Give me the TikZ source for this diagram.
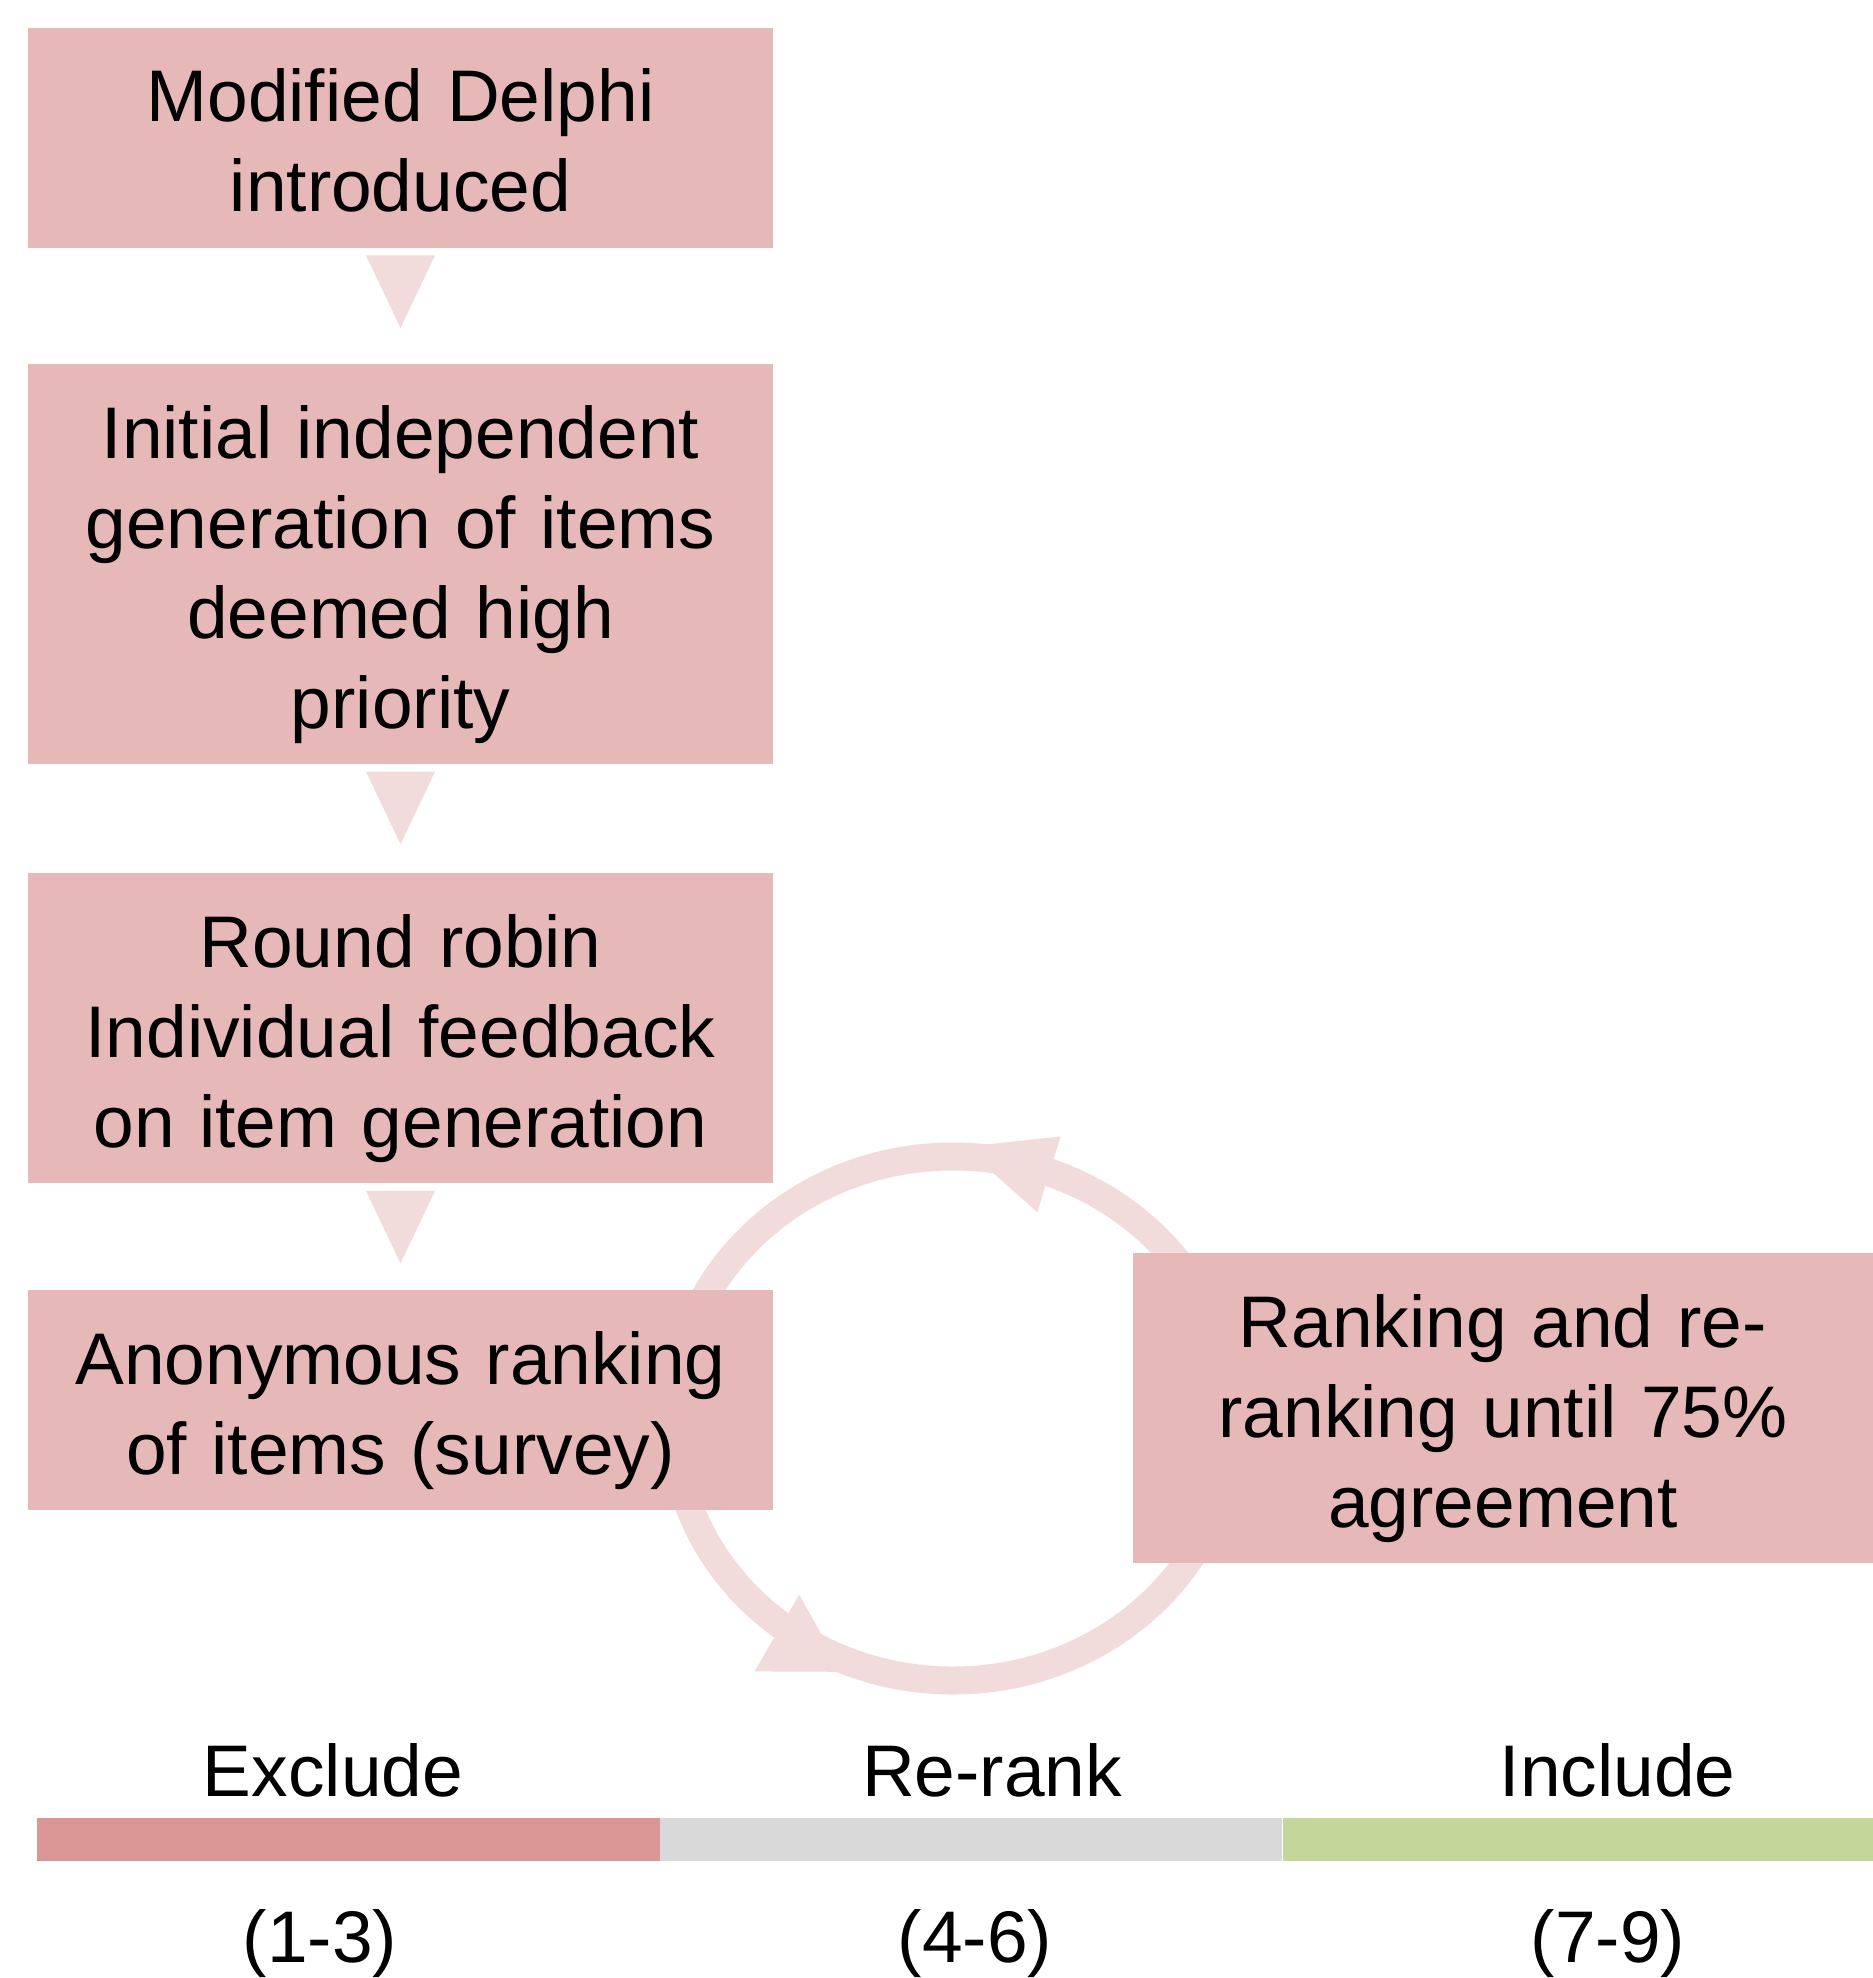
\documentclass[tikz,border=0pt]{standalone}
\usepackage{fontspec}
\setmainfont{Liberation Sans}
\usetikzlibrary{calc}

\definecolor{boxpink}{HTML}{E6B8B7}
\definecolor{flowpink}{HTML}{F2DCDB}
\definecolor{excludered}{HTML}{DA9694}
\definecolor{rerankgray}{HTML}{D9D9D9}
\definecolor{includegreen}{HTML}{C4D79B}

% strut that fixes the height of the first and the depth of the last line
\newcommand{\linestrut}{\rule[-1.6mm]{0pt}{9mm}}

\tikzset{
    stepbox/.style={fill=boxpink, text width=74.5mm, align=center,
        inner xsep=0pt, inner ysep=2mm,
        font=\fontsize{20.8pt}{9mm}\selectfont,
        execute at begin node=\linestrut, execute at end node=\linestrut},
    scaletext/.style={font=\fontsize{20.8pt}{9mm}\selectfont, anchor=base, inner sep=0pt}
}

\begin{document}
\begin{tikzpicture}[x=0.1mm, y=-0.1mm]
            \fill[white] (0, 0) rectangle (1873, 1978);
            \useasboundingbox (0, 0) rectangle (1873, 1978);

            % the ranking loop
            \draw[flowpink, line width=2.8mm] (953, 1418.5) ellipse [x radius=280, y radius=262];
            \fill[flowpink] (963.7, 1146.9) -- (1060.6, 1136.4) -- (1037.3, 1212.1) -- cycle;
            \fill[flowpink] (842.5, 1671.8) -- (799.3, 1594.8) -- (754.5, 1671.4) -- cycle;

            % the steps
            \node[stepbox] (delphi) at (400.5, 137.7) {Modified Delphi\\introduced};
            \node[stepbox] (initial) at (400.5, 564) {Initial independent\\generation of items\\deemed high\\priority};
            \node[stepbox] (robin) at (400.5, 1028.2) {Round robin\\Individual feedback\\on item generation};
            \node[stepbox] (anon) at (400.5, 1400) {Anonymous ranking\\of items (survey)};
            \node[stepbox, text width=74mm] (rerank) at (1503, 1408.3) {Ranking and re-\\ranking until 75\%\\agreement};

            \foreach \a in {delphi, initial, robin}{
            \fill[flowpink] ($(\a.south) + (-34.5, 7)$) -- ($(\a.south) + (34.5, 7)$) -- ($(\a.south) + (0, 79.5)$) -- cycle;
            }

            % the rating scale
            \foreach \xa/\xb/\col/\lbl/\lx/\rng/\rx [count=\k] in {37/659.5/excludered/Exclude/333/(1-3)/320, 659.5/1282.3/rerankgray/Re-rank/992/(4-6)/975, 1283.3/1873/includegreen/Include/1617.7/(7-9)/1608}{
            \fill[\col] (\xa, 1817.7) rectangle (\xb, 1860.7);
            \node[scaletext] (cat\k) at (\lx, 1796.7) {\lbl};
            \node[scaletext] (rng\k) at (\rx, 1962.3) {\rng};
            }
\end{tikzpicture}
\end{document}
